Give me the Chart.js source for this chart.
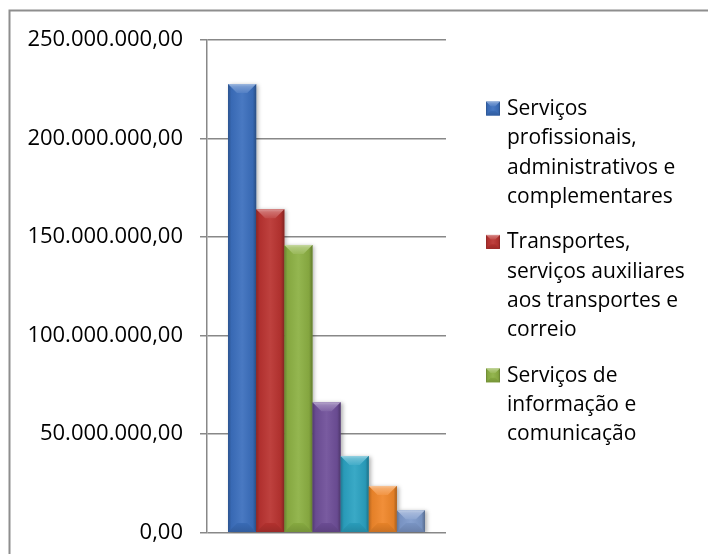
<!DOCTYPE html>
<html>
<head>
<meta charset="utf-8">
<script src="https://cdn.jsdelivr.net/npm/chart.js@4.4.1/dist/chart.umd.min.js"></script>
<style>
  html, body { margin: 0; padding: 0; background: #ffffff; }
  #wrap { width: 708px; height: 554px; }
</style>
</head>
<body>
<div id="wrap"><canvas id="chart" width="708" height="554"></canvas></div>
<script>
// Receita por segmento de serviços (R$)
const categories = [''];
const seriesNames = [
  ['Serviços', 'profissionais,', 'administrativos e', 'complementares'],
  ['Transportes,', 'serviços auxiliares', 'aos transportes e', 'correio'],
  ['Serviços de', 'informação e', 'comunicação'],
  ['Serviços prestados', 'às famílias'],
  ['Atividades', 'imobiliárias'],
  ['Serviços de', 'manutenção e', 'reparação'],
  ['Outras atividades', 'de serviços']
];
const seriesValues = [227500000, 164000000, 145900000, 66100000, 38900000, 23700000, 11400000];
const seriesColors = ['#3b6fbd', '#b93330', '#8cb043', '#6f4f99', '#2ba2c2', '#f0872a', '#7e9acb'];
const yTicks = [0, 50000000, 100000000, 150000000, 200000000, 250000000];

const FONT = '"Open Sans", "DejaVu Sans", sans-serif';
const AXIS_GREY = '#888888';

// pt-BR number format: 250.000.000,00
function fmtBR(v) {
  const parts = Math.abs(v).toFixed(2).split('.');
  return parts[0].replace(/\B(?=(\d{3})+(?!\d))/g, '.') + ',' + parts[1];
}

function hexToRgb(h) {
  const n = parseInt(h.slice(1), 16);
  return [(n >> 16) & 255, (n >> 8) & 255, n & 255];
}
// amt > 0 mixes toward white, amt < 0 toward black
function tone(h, amt) {
  const c = hexToRgb(h);
  const t = amt > 0 ? 255 : 0;
  const a = Math.abs(amt);
  return 'rgb(' + c.map(v => Math.round(v + (t - v) * a)).join(',') + ')';
}

// Bevelled face drawn over a rectangle
function bevelFace(ctx, color, x0, top, x1, bottom) {
  const w = x1 - x0, h = bottom - top;
  if (w <= 0 || h <= 0) return;
  const g = ctx.createLinearGradient(x0, 0, x1, 0);
  g.addColorStop(0, tone(color, -0.25));
  g.addColorStop(0.12, tone(color, -0.05));
  g.addColorStop(0.5, tone(color, 0.07));
  g.addColorStop(0.88, tone(color, -0.06));
  g.addColorStop(1, tone(color, -0.3));
  ctx.fillStyle = g;
  ctx.fillRect(x0, top, w, h);

  const b = Math.min(9, w / 3, h / 2);
  // top bevel
  const gt = ctx.createLinearGradient(0, top, 0, top + b);
  gt.addColorStop(0, tone(color, 0.5));
  gt.addColorStop(0.3, tone(color, 0.3));
  gt.addColorStop(1, tone(color, 0.12));
  ctx.fillStyle = gt;
  ctx.beginPath();
  ctx.moveTo(x0, top);
  ctx.lineTo(x1, top);
  ctx.lineTo(x1 - b, top + b);
  ctx.lineTo(x0 + b, top + b);
  ctx.closePath();
  ctx.fill();
  // bottom bevel
  const gb = ctx.createLinearGradient(0, bottom - b, 0, bottom);
  gb.addColorStop(0, tone(color, -0.04));
  gb.addColorStop(1, tone(color, -0.16));
  ctx.fillStyle = gb;
  ctx.beginPath();
  ctx.moveTo(x0, bottom);
  ctx.lineTo(x1, bottom);
  ctx.lineTo(x1 - b, bottom - b);
  ctx.lineTo(x0 + b, bottom - b);
  ctx.closePath();
  ctx.fill();
}

const framePlugin = {
  id: 'frame',
  beforeDraw(chart) {
    const ctx = chart.ctx;
    ctx.save();
    ctx.fillStyle = '#ffffff';
    ctx.fillRect(0, 0, chart.width, chart.height);
    ctx.strokeStyle = '#8e8e8e';
    ctx.lineWidth = 2;
    ctx.strokeRect(9.5, 10.5, chart.width + 20, chart.height + 20);
    ctx.restore();
  }
};

const barStylePlugin = {
  id: 'barStyle',
  beforeDatasetsDraw(chart) {
    const ctx = chart.ctx;
    ctx.save();
    ctx.shadowColor = 'rgba(0,0,0,0.3)';
    ctx.shadowBlur = 4;
    ctx.shadowOffsetX = 2;
    ctx.shadowOffsetY = 1;
  },
  afterDatasetsDraw(chart) {
    const ctx = chart.ctx;
    ctx.restore();
    ctx.save();
    chart.data.datasets.forEach((ds, i) => {
      const meta = chart.getDatasetMeta(i);
      meta.data.forEach(el => {
        const p = el.getProps(['x', 'y', 'base', 'width'], true);
        bevelFace(ctx, seriesColors[i], p.x - p.width / 2, Math.min(p.y, p.base),
                  p.x + p.width / 2, Math.max(p.y, p.base));
      });
    });
    ctx.restore();
  }
};

// Right-hand legend with wrapped entries; entries that do not fit are left out
const legendPlugin = {
  id: 'wrappedLegend',
  afterDraw(chart) {
    const ctx = chart.ctx;
    const boxX = 486, textX = 507, lineH = 29.3, entryGap = 45.5, limit = 470;
    let baseline = 115;
    ctx.save();
    ctx.font = '21px ' + FONT;
    ctx.textBaseline = 'alphabetic';
    ctx.textAlign = 'left';
    chart.data.datasets.forEach((ds, i) => {
      const lines = seriesNames[i];
      const last = baseline + lineH * (lines.length - 1);
      if (last > limit) return;
      bevelFace(ctx, seriesColors[i], boxX, baseline - 13.5, boxX + 14, baseline + 0.5);
      ctx.fillStyle = '#000000';
      lines.forEach((t, k) => ctx.fillText(t, textX, baseline + k * lineH));
      baseline = last + entryGap;
    });
    ctx.restore();
  }
};

new Chart(document.getElementById('chart'), {
  type: 'bar',
  data: {
    labels: categories,
    datasets: seriesValues.map((v, i) => ({
      label: seriesNames[i].join(' '),
      data: [v],
      backgroundColor: seriesColors[i],
      borderWidth: 0
    }))
  },
  options: {
    responsive: false,
    animation: false,
    devicePixelRatio: 1,
    layout: { padding: { top: 39.7, right: 262, bottom: 21.3, left: 0 } },
    datasets: { bar: { categoryPercentage: 0.824, barPercentage: 1 } },
    plugins: { legend: { display: false }, tooltip: { enabled: false } },
    scales: {
      x: { display: false },
      y: {
        min: 0,
        max: 250000000,
        afterBuildTicks(scale) { scale.ticks = yTicks.map(v => ({ value: v })); },
        afterFit(scale) {
          scale.width = 207;
          scale.paddingTop = 0;
          scale.paddingBottom = 0;
        },
        ticks: {
          color: '#000000',
          font: { family: FONT, size: 22 },
          padding: 17,
          callback: v => fmtBR(v)
        },
        grid: { color: AXIS_GREY, lineWidth: 1.5, tickLength: 7 },
        border: { color: AXIS_GREY, width: 1.5 }
      }
    }
  },
  plugins: [framePlugin, barStylePlugin, legendPlugin]
});
</script>
</body>
</html>
